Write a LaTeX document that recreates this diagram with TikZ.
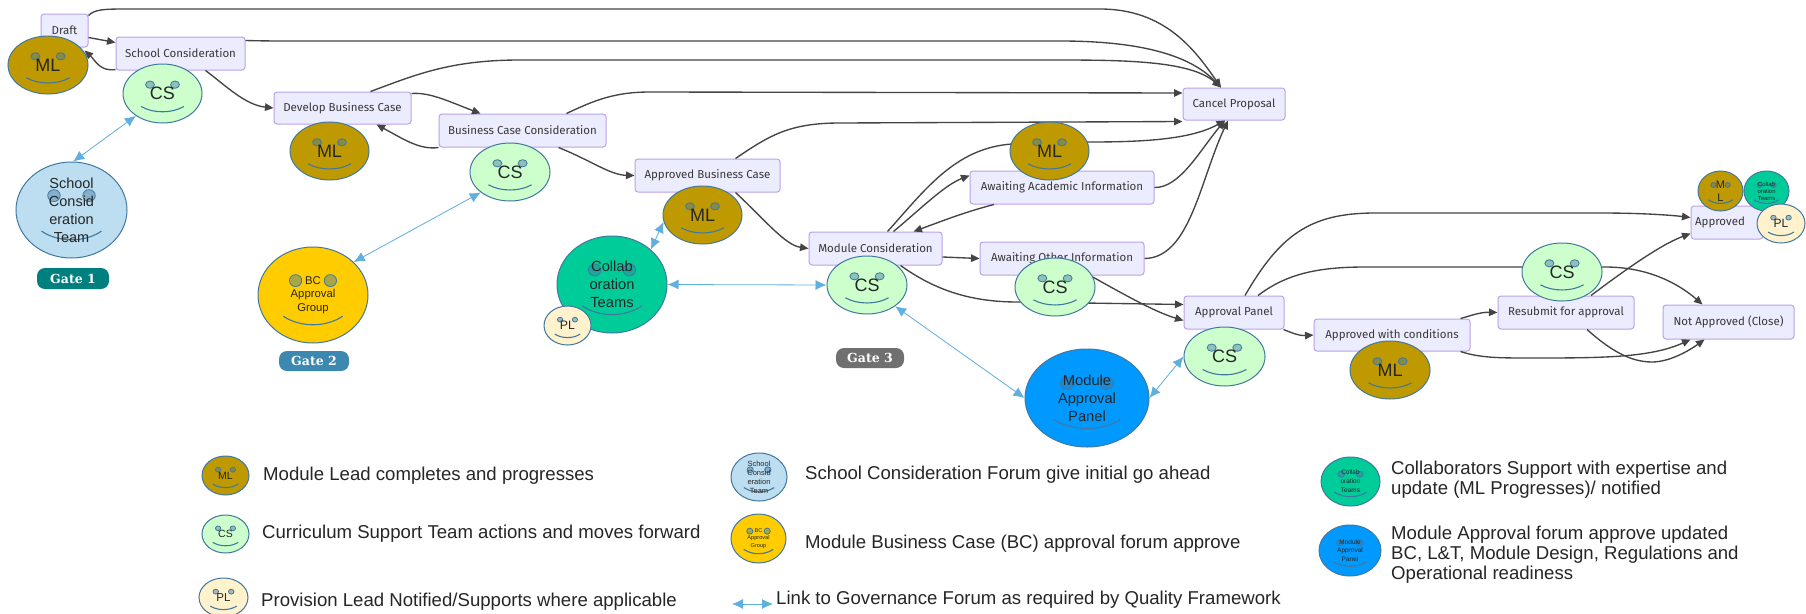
\documentclass[tikz,border=0pt]{standalone}
\usepackage{fontspec}
\setmainfont{Liberation Sans}
\newfontfamily\boxfont{Fira Sans}
\newfontfamily\gatefont{DejaVu Serif}
\usetikzlibrary{shapes.geometric,arrows.meta,calc}
\definecolor{mlc}{HTML}{BF9900}
\definecolor{csc}{HTML}{CCFFCC}
\definecolor{plc}{HTML}{FFF2CC}
\definecolor{teamc}{HTML}{BDDDF0}
\definecolor{bcc}{HTML}{FFCC00}
\definecolor{collabc}{HTML}{00CC99}
\definecolor{mapc}{HTML}{0099FF}
\definecolor{facel}{HTML}{41789F}
\definecolor{linkc}{HTML}{5FAFDF}
\definecolor{boxf}{HTML}{ECECFF}
\definecolor{boxl}{HTML}{B9A2E8}
\definecolor{flowc}{HTML}{444444}
\definecolor{gateone}{HTML}{007F7F}
\definecolor{gatetwo}{HTML}{3C88B0}
\definecolor{gatethree}{HTML}{707070}
\tikzset{
  stage/.style={draw=boxl,fill=boxf,line width=1pt,rounded corners=3pt,inner sep=0pt,
    text=black!78,font=\boxfont\fontsize{11.5}{14}\selectfont},
  flow/.style={draw=flowc,line width=1.35pt,-{Triangle[length=8.5pt,width=7.5pt]}},
  link/.style={draw=linkc,line width=.8pt,{Latex[length=11pt,width=10pt]}-{Latex[length=11pt,width=10pt]}},
  face/.style={draw=facel,line width=1pt,ellipse,inner sep=0pt},
  gatepill/.style={rounded corners=8pt,inner sep=0pt,text=white,font=\gatefont\bfseries\fontsize{12.5}{14}\selectfont},
  legendtext/.style={anchor=west,align=left,inner sep=0pt,text=black!85,font=\fontsize{18.6}{20}\selectfont}
}
% name, x1, x2, y1, y2, face colour, font size, line height, label
\newcommand{\smiley}[9]{%
  \pgfmathsetmacro{\sw}{#3-#2}\pgfmathsetmacro{\sh}{#5-#4}%
  \pgfmathsetmacro{\scx}{(#2+#3)/2}\pgfmathsetmacro{\scy}{(#4+#5)/2}%
  \node[face,fill=#6,minimum width=\sw pt,minimum height=\sh pt] (#1) at (\scx,\scy) {};
  \begin{scope}[shift={(\scx,\scy)},x=\sw pt,y=-\sh pt]
    \draw[facel,line width=.8pt,fill=facel!45!#6] (-.158,-.15) ellipse (.056 and .062);
    \draw[facel,line width=.8pt,fill=facel!45!#6] (.158,-.15) ellipse (.056 and .062);
    \draw[facel,line width=1.1pt] (-.27,.22) .. controls (-.12,.34) and (.12,.34) .. (.27,.22);
  \end{scope}
  \node[inner sep=0pt,align=center,text=black!85,font=\fontsize{#7}{#8}\selectfont] (#1-label) at (\scx,\scy) {#9};
}
\begin{document}
\begin{tikzpicture}[x=1pt,y=-1pt]
\useasboundingbox (0,0) rectangle (1806,613);
\fill[white] (0,0) rectangle (1806,613);

% process boxes
\node[stage,minimum width=47pt,minimum height=33pt] (draft) at (64.5,30.5) {Draft};
\node[stage,minimum width=129pt,minimum height=33pt] (school) at (180.5,53.5) {School Consideration};
\node[stage,minimum width=137pt,minimum height=32pt] (develop) at (342.5,108) {Develop Business Case};
\node[stage,minimum width=167pt,minimum height=33pt] (bccons) at (522.5,130.5) {Business Case Consideration};
\node[stage,minimum width=145pt,minimum height=33pt] (approvedbc) at (707.5,175.5) {Approved Business Case};
\node[stage,minimum width=133pt,minimum height=33pt] (module) at (875.5,248.5) {Module Consideration};
\node[stage,minimum width=184pt,minimum height=33pt] (academic) at (1062,187.5) {Awaiting Academic Information};
\node[stage,minimum width=164pt,minimum height=33pt] (other) at (1062,258.5) {Awaiting Other Information};
\node[stage,minimum width=102pt,minimum height=32pt] (cancel) at (1234,104) {Cancel Proposal};
\node[stage,minimum width=100pt,minimum height=33pt] (panel) at (1234,312.5) {Approval Panel};
\node[stage,minimum width=156pt,minimum height=32pt] (conditions) at (1392,335) {Approved with conditions};
\node[stage,minimum width=136pt,minimum height=33pt] (resubmit) at (1566,312.5) {Resubmit for approval};
\node[stage,minimum width=131pt,minimum height=34pt] (notapproved) at (1728.5,322) {Not Approved (Close)};
\node[stage,minimum width=72pt,minimum height=33pt] (approved) at (1727,222.5) {\hspace*{-14pt}Approved};

% flow connectors
\draw[flow] ([yshift=-2pt]draft.north east) .. controls (95,9) and (105,9) .. (130,9) -- (1100,9) .. controls (1165,9) and (1195,50) .. ([xshift=-13pt]cancel.north);
\draw[flow] ([yshift=-7pt]draft.east) -- ([yshift=11pt]school.west);
\draw[flow] ([yshift=1pt]school.south west) .. controls (100,72) and (95,60) .. ([xshift=-4pt,yshift=-3pt]draft.south east);
\draw[flow] ([yshift=-4pt]school.north east) .. controls (265,41) and (275,41) .. (300,41) -- (1060,41) .. controls (1140,41) and (1190,55) .. ([xshift=-13pt]cancel.north);
\draw[flow] ([xshift=25pt]school.south) .. controls (225,85) and (245,105) .. (develop.west);
\draw[flow] ([xshift=28pt]develop.north) .. controls (415,75) and (450,60) .. (520,60) -- (1050,60) .. controls (1120,60) and (1190,60) .. ([xshift=-13pt]cancel.north);
\draw[flow] ([yshift=-2pt]develop.north east) .. controls (430,92) and (450,102) .. ([xshift=-42pt]bccons.north);
\draw[flow] (bccons.south west) .. controls (420,150) and (405,140) .. ([xshift=34pt]develop.south);
\draw[flow] ([xshift=44pt]bccons.north) .. controls (595,100) and (615,92) .. (650,92) -- (cancel.west|-0,93);
\draw[flow] ([xshift=36pt]bccons.south) .. controls (590,160) and (610,175) .. (approvedbc.west);
\draw[flow] ([xshift=28pt]approvedbc.north) .. controls (770,135) and (790,123) .. (840,123) -- ([yshift=-1pt]cancel.south west);
\draw[flow] ([xshift=28pt]approvedbc.south) .. controls (765,220) and (785,245) .. (module.west);
\draw[flow] ([xshift=12pt]module.north) .. controls (925,190) and (955,148) .. (1012,144) -- (1089,142) .. controls (1140,142) and (1190,140) .. ([xshift=-9pt]cancel.south);
\draw[flow] ([xshift=18pt]module.north) .. controls (925,205) and (945,185) .. ([yshift=12pt]academic.west);
\draw[flow] ([xshift=-68pt]academic.south) .. controls (965,212) and (945,220) .. ([xshift=38pt]module.north);
\draw[flow] (academic.east) .. controls (1180,188) and (1200,150) .. ([xshift=-9pt]cancel.south);
\draw[flow] (other.east) .. controls (1190,258) and (1200,180) .. ([xshift=-6pt]cancel.south);
\draw[flow] (module.east|-0,257) -- (other.west);
\draw[flow] ([xshift=25pt]module.south) .. controls (935,290) and (970,302) .. (1018,302) -- ([yshift=8pt]panel.west);
\draw[flow] ([xshift=28pt]other.south) .. controls (1125,295) and (1155,312) .. ([yshift=-8pt]panel.west);
\draw[flow] ([xshift=11pt]panel.north) .. controls (1280,235) and (1310,213) .. (1375,213) -- (1600,213) .. controls (1640,213) and (1670,215) .. ([yshift=5pt]approved.west);
\draw[flow] ([xshift=24pt]panel.north) .. controls (1285,275) and (1315,267) .. (1365,267) -- (1605,267) .. controls (1650,267) and (1680,285) .. ([xshift=-26pt]notapproved.north);
\draw[flow] ([xshift=-1pt]panel.south east) .. controls (1292,333) and (1300,336) .. (conditions.west);
\draw[flow] ([xshift=-10pt]conditions.north east) .. controls (1470,316) and (1480,312) .. (resubmit.west);
\draw[flow] ([xshift=-10pt]conditions.south east) .. controls (1480,358) and (1500,358) .. (1530,358) .. controls (1600,358) and (1650,358) .. ([xshift=-38pt]notapproved.south);
\draw[flow] ([xshift=25pt]resubmit.north) .. controls (1625,270) and (1660,245) .. ([yshift=-11pt]approved.west);
\draw[flow] ([xshift=21pt]resubmit.south) .. controls (1610,350) and (1630,362) .. (1652,362) .. controls (1670,362) and (1690,350) .. ([xshift=-24pt]notapproved.south);

% faces on the flow
\smiley{ml1}{8}{88}{36}{94}{mlc}{18}{20}{ML}
\smiley{cs1}{123}{202}{64}{123}{csc}{18}{20}{CS}
\smiley{team}{16}{127}{162}{258}{teamc}{14.5}{18}{School\\Consid\\eration\\Team}
\smiley{ml2}{290}{369}{122}{180}{mlc}{18}{20}{ML}
\smiley{cs2}{470}{550}{143}{201}{csc}{18}{20}{CS}
\smiley{bc}{258}{368}{247}{343}{bcc}{11.3}{13.5}{BC\\Approval\\Group}
\smiley{collab}{557}{667}{236}{333}{collabc}{14.7}{18}{Collab\\oration\\Teams}
\smiley{pl1}{544}{591}{306}{345}{plc}{12.3}{14}{PL}
\smiley{ml3}{663}{742}{186}{244}{mlc}{18}{20}{ML}
\smiley{cs3}{827}{907}{256}{314}{csc}{18}{20}{CS}
\smiley{cs4}{1015}{1095}{258}{316}{csc}{18}{20}{CS}
\smiley{ml4}{1010}{1089}{122}{180}{mlc}{18}{20}{ML}
\smiley{map}{1025}{1149}{349}{447}{mapc}{14.7}{18}{Module\\Approval\\Panel}
\smiley{cs5}{1184}{1265}{327}{386}{csc}{18}{20}{CS}
\smiley{ml5}{1350}{1430}{341}{399}{mlc}{18}{20}{ML}
\smiley{cs6}{1522}{1602}{243}{301}{csc}{18}{20}{CS}
\smiley{ml6}{1698}{1743}{171}{211}{mlc}{11}{13}{M\\L}
\smiley{collab2}{1744}{1789}{171}{211}{collabc}{5.9}{7}{Collab\\oration\\Teams}
\smiley{pl2}{1757}{1805}{204}{243}{plc}{12}{14}{PL}

% gates
\node[gatepill,fill=gateone,minimum width=72pt,minimum height=21pt] (gate1) at (73,278.5) {Gate 1};
\node[gatepill,fill=gatetwo,minimum width=70pt,minimum height=20pt] (gate2) at (314,361) {Gate 2};
\node[gatepill,fill=gatethree,minimum width=68pt,minimum height=20pt] (gate3) at (870,358) {Gate 3};

% governance links
\draw[link] (cs1.220) -- (team.88);
\draw[link] (cs2.215) -- (bc.39);
\draw[link] (ml3.190) -- (collab.42);
\draw[link] (collab.0) -- (cs3.180);
\draw[link] (cs3.-37) -- (map.180);
\draw[link] (map.0) -- (cs5.180);

% legend
\smiley{lml}{202}{249}{456}{495}{mlc}{10.5}{12}{ML}
\smiley{lcs}{202}{249}{515}{553}{csc}{10.5}{12}{CS}
\smiley{lpl}{199}{248}{578}{617}{plc}{11.5}{13}{PL}
\smiley{lteam}{731}{787}{453}{501}{teamc}{7.5}{9}{School\\Consid\\eration\\Team}
\smiley{lbc}{731}{786}{514}{563}{bcc}{5.6}{7.5}{BC\\Approval\\Group}
\smiley{lcollab}{1321}{1380}{457}{506}{collabc}{6.5}{9}{Collab\\oration\\Teams}
\smiley{lmap}{1319}{1381}{525}{576}{mapc}{6.5}{8.5}{Module\\Approval\\Panel}
\node[legendtext] (t1) at (263,476) {Module Lead completes and progresses};
\node[legendtext] (t2) at (262,534) {Curriculum Support Team actions and moves forward};
\node[legendtext] (t3) at (261,602) {Provision Lead Notified/Supports where applicable};
\node[legendtext] (t4) at (805,475) {School Consideration Forum give initial go ahead};
\node[legendtext] (t5) at (805,544) {Module Business Case (BC) approval forum approve};
\node[legendtext] (t6) at (776,600) {Link to Governance Forum as required by Quality Framework};
\node[legendtext] (t7) at (1391,480) {Collaborators Support with expertise and\\update (ML Progresses)/ notified};
\node[legendtext] (t8) at (1391,555) {Module Approval forum approve updated\\BC, L\&T, Module Design, Regulations and\\Operational readiness};
\coordinate (la) at (732,604);
\coordinate (lb) at (773,604);
\draw[link] (la) -- (lb);
\end{tikzpicture}
\end{document}
